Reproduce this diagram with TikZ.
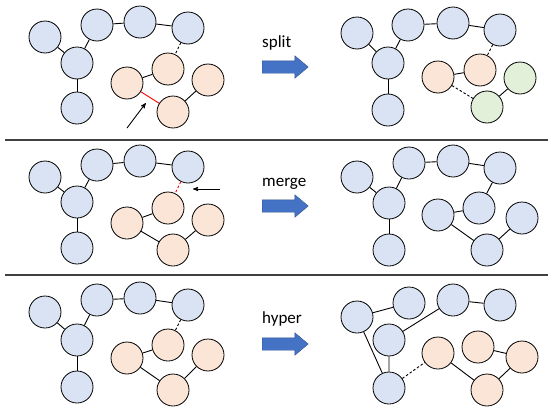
\documentclass[tikz,border=0pt]{standalone}
\usepackage{fontspec}
\setmainfont{Carlito}
\usetikzlibrary{arrows}
\usetikzlibrary{calc}
\usetikzlibrary{shapes.arrows}

\definecolor{nodeblue}{HTML}{DAE3F3}
\definecolor{nodeorange}{HTML}{FBE5D6}
\definecolor{nodegreen}{HTML}{E2F0D9}
\definecolor{arrowfill}{HTML}{4472C4}
\definecolor{arrowline}{HTML}{2F528F}

\tikzset{
	vtx/.style={circle,draw,line width=0.8pt,minimum size=32pt,inner sep=0pt},
	bvtx/.style={vtx,fill=nodeblue},
	ovtx/.style={vtx,fill=nodeorange},
	gvtx/.style={vtx,fill=nodegreen},
	edge/.style={line width=0.9pt},
	weak/.style={edge,dash pattern=on 2.5pt off 2pt},
	opname/.style={anchor=base west,inner sep=0pt,font=\fontsize{17}{20}\selectfont},
	bigarrow/.style={single arrow,draw=arrowline,fill=arrowfill,line width=0.4pt,anchor=west,
		minimum height=46pt,inner xsep=0pt,inner ysep=6pt,single arrow head extend=5pt,single arrow tip angle=80},
	sep/.style={line width=1.3pt,draw=black!75}
}

\begin{document}
\begin{tikzpicture}[x=1pt,y=-1pt]
		\useasboundingbox (0,0) rectangle (551,407);

		\node[bvtx] (sla) at (45,37) {};
		\node[bvtx] (slb) at (97,25) {};
		\node[bvtx] (slc) at (140,22) {};
		\node[bvtx] (sld) at (188,28) {};
		\node[bvtx] (sle) at (77,63) {};
		\node[bvtx] (slf) at (77,108) {};
		\node[ovtx] (slg) at (127,83) {};
		\node[ovtx] (slh) at (168,69) {};
		\node[ovtx] (sli) at (208,80) {};
		\node[ovtx] (slj) at (173,112) {};
		\draw[edge] (sla) -- (sle) -- (slb) -- (slc) -- (sld);
		\draw[edge] (sle) -- (slf);
		\draw[weak] (sld) -- (slh);
		\draw[edge] (slg) -- (slh);
		\draw[edge,red] (slg) -- (slj);
		\draw[edge] (slj) -- (sli);
		\coordinate (splitfrom) at (127,128);
		\draw[->,>=stealth',line width=0.9pt,shorten >=7pt] (splitfrom) -- ($(slg)!0.5!(slj)$);

		\node[opname] (splitname) at (262,47) {split};
		\node[bigarrow] (splitarrow) at (262,67) {};

		\node[bvtx] (sra) at (357,33) {};
		\node[bvtx] (srb) at (408,25) {};
		\node[bvtx] (src) at (453,23) {};
		\node[bvtx] (srd) at (500,30) {};
		\node[bvtx] (sre) at (388,63) {};
		\node[bvtx] (srf) at (388,110) {};
		\node[ovtx] (srg) at (438,77) {};
		\node[ovtx] (srh) at (480,70) {};
		\node[gvtx] (sri) at (520,78) {};
		\node[gvtx] (srj) at (487,107) {};
		\draw[edge] (sra) -- (sre) -- (srb) -- (src) -- (srd);
		\draw[edge] (sre) -- (srf);
		\draw[weak] (srd) -- (srh);
		\draw[edge] (srg) -- (srh);
		\draw[weak] (srg) -- (srj);
		\draw[edge] (srj) -- (sri);

		\draw[sep] (5,140) -- (548,140);

		\node[bvtx] (mla) at (45,177) {};
		\node[bvtx] (mlb) at (97,165) {};
		\node[bvtx] (mlc) at (140,161) {};
		\node[bvtx] (mld) at (188,167) {};
		\node[bvtx] (mle) at (77,202) {};
		\node[bvtx] (mlf) at (77,248) {};
		\node[ovtx] (mlg) at (127,223) {};
		\node[ovtx] (mlh) at (168,208) {};
		\node[ovtx] (mli) at (208,220) {};
		\node[ovtx] (mlj) at (173,250) {};
		\draw[edge] (mla) -- (mle) -- (mlb) -- (mlc) -- (mld);
		\draw[edge] (mle) -- (mlf);
		\draw[weak,red] (mld) -- (mlh);
		\draw[edge] (mlg) -- (mlh);
		\draw[edge] (mlg) -- (mlj) -- (mli);
		\coordinate (mergefrom) at (220,189);
		\coordinate (mergeto) at (193,189);
		\draw[->,>=stealth',line width=0.9pt] (mergefrom) -- (mergeto);

		\node[opname] (mergename) at (262,186) {merge};
		\node[bigarrow] (mergearrow) at (262,206) {};

		\node[bvtx] (mra) at (357,177) {};
		\node[bvtx] (mrb) at (409,163) {};
		\node[bvtx] (mrc) at (453,161) {};
		\node[bvtx] (mrd) at (500,168) {};
		\node[bvtx] (mre) at (389,203) {};
		\node[bvtx] (mrf) at (389,250) {};
		\node[bvtx] (mrg) at (438,215) {};
		\node[bvtx] (mrh) at (479,208) {};
		\node[bvtx] (mri) at (522,218) {};
		\node[bvtx] (mrj) at (487,250) {};
		\draw[edge] (mra) -- (mre) -- (mrb) -- (mrc) -- (mrd);
		\draw[edge] (mre) -- (mrf);
		\draw[edge] (mrd) -- (mrh) -- (mrg) -- (mrj) -- (mri);

		\draw[sep] (5,275) -- (548,275);

		\node[bvtx] (hla) at (45,312) {};
		\node[bvtx] (hlb) at (97,300) {};
		\node[bvtx] (hlc) at (140,298) {};
		\node[bvtx] (hld) at (188,305) {};
		\node[bvtx] (hle) at (77,340) {};
		\node[bvtx] (hlf) at (77,387) {};
		\node[ovtx] (hlg) at (127,358) {};
		\node[ovtx] (hlh) at (168,345) {};
		\node[ovtx] (hli) at (208,355) {};
		\node[ovtx] (hlj) at (173,390) {};
		\draw[edge] (hla) -- (hle) -- (hlb) -- (hlc) -- (hld);
		\draw[edge] (hle) -- (hlf);
		\draw[weak] (hld) -- (hlh);
		\draw[edge] (hlg) -- (hlh);
		\draw[edge] (hlg) -- (hlj) -- (hli);

		\node[opname] (hypername) at (262,323) {hyper};
		\node[bigarrow] (hyperarrow) at (262,344) {};

		\node[bvtx] (hra) at (357,317) {};
		\node[bvtx] (hrb) at (409,303) {};
		\node[bvtx] (hrc) at (453,300) {};
		\node[bvtx] (hrd) at (500,305) {};
		\node[bvtx] (hre) at (389,340) {};
		\node[bvtx] (hrf) at (389,388) {};
		\node[ovtx] (hrg) at (438,353) {};
		\node[ovtx] (hrh) at (478,347) {};
		\node[ovtx] (hri) at (522,357) {};
		\node[ovtx] (hrj) at (487,390) {};
		\draw[edge] (hrb) -- (hra) -- (hrf) -- (hre) -- (hrc) -- (hrd);
		\draw[weak] (hrf) -- (hrg);
		\draw[edge] (hrg) -- (hrj) -- (hri) -- (hrh);
	\end{tikzpicture}
\end{document}
